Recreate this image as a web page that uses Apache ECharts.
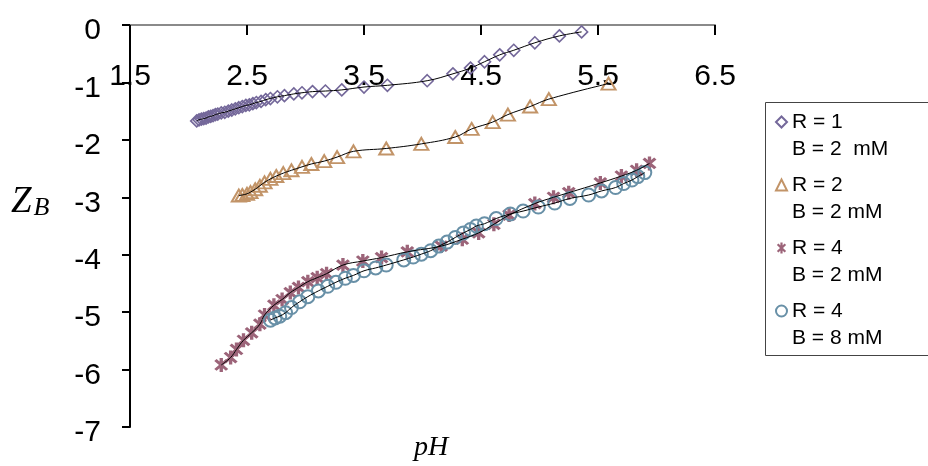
<!DOCTYPE html>
<html>
<head>
<meta charset="utf-8">
<script src="https://cdn.jsdelivr.net/npm/echarts@6/dist/echarts.min.js"></script>
<style>
html,body{margin:0;padding:0;background:#fff;}
#chart{width:928px;height:466px;}
</style>
</head>
<body>
<div id="chart"></div>
<script>
// ---- data ----
const seriesNames = ['R = 1\nB = 2  mM', 'R = 2\nB = 2 mM', 'R = 4\nB = 2 mM', 'R = 4\nB = 8 mM'];
const xTickLabels = ['1.5', '2.5', '3.5', '4.5', '5.5', '6.5'];
const yTickLabels = ['0', '-1', '-2', '-3', '-4', '-5', '-6', '-7'];
const xAxisTitle = 'pH';

const r1B2 = [[2.07,-1.67],[2.09,-1.65],[2.11,-1.64],[2.13,-1.63],[2.15,-1.62],[2.17,-1.60],[2.19,-1.59],[2.21,-1.58],[2.23,-1.56],[2.25,-1.55],[2.28,-1.53],[2.31,-1.52],[2.34,-1.50],[2.37,-1.48],[2.40,-1.46],[2.43,-1.44],[2.46,-1.42],[2.49,-1.40],[2.52,-1.39],[2.55,-1.37],[2.58,-1.35],[2.62,-1.33],[2.66,-1.30],[2.70,-1.28],[2.76,-1.25],[2.82,-1.23],[2.90,-1.20],[2.97,-1.18],[3.06,-1.16],[3.17,-1.15],[3.31,-1.13],[3.50,-1.08],[3.70,-1.05],[4.04,-0.97],[4.26,-0.85],[4.41,-0.75],[4.53,-0.64],[4.66,-0.52],[4.78,-0.44],[4.96,-0.31],[5.17,-0.19],[5.36,-0.12]];

const r2B2 = [[2.43,-2.97],[2.46,-2.96],[2.50,-2.94],[2.53,-2.91],[2.57,-2.86],[2.61,-2.80],[2.65,-2.74],[2.70,-2.68],[2.75,-2.63],[2.81,-2.58],[2.88,-2.53],[2.97,-2.47],[3.05,-2.42],[3.16,-2.37],[3.27,-2.30],[3.41,-2.20],[3.69,-2.15],[3.99,-2.07],[4.28,-1.95],[4.42,-1.81],[4.60,-1.69],[4.73,-1.56],[4.92,-1.42],[5.08,-1.29],[5.59,-1.02]];

const r4B2 = [[2.28,-5.92],[2.36,-5.79],[2.41,-5.65],[2.47,-5.49],[2.54,-5.36],[2.61,-5.21],[2.65,-5.05],[2.73,-4.88],[2.80,-4.78],[2.87,-4.66],[2.94,-4.57],[3.02,-4.47],[3.10,-4.40],[3.18,-4.33],[3.32,-4.18],[3.49,-4.11],[3.65,-4.05],[3.87,-3.95],[4.16,-3.85],[4.34,-3.73],[4.48,-3.62],[4.61,-3.47],[4.74,-3.31],[4.96,-3.11],[5.12,-3.00],[5.25,-2.92],[5.52,-2.75],[5.70,-2.63],[5.83,-2.53],[5.94,-2.41]];

const r4B8 = [[2.70,-5.14],[2.74,-5.10],[2.78,-5.07],[2.83,-5.01],[2.88,-4.92],[2.95,-4.82],[3.02,-4.73],[3.11,-4.63],[3.19,-4.55],[3.26,-4.48],[3.34,-4.41],[3.41,-4.36],[3.50,-4.28],[3.60,-4.23],[3.69,-4.18],[3.84,-4.09],[3.92,-4.04],[3.99,-3.99],[4.07,-3.93],[4.14,-3.85],[4.21,-3.78],[4.28,-3.70],[4.35,-3.62],[4.41,-3.56],[4.46,-3.50],[4.53,-3.46],[4.63,-3.37],[4.75,-3.29],[4.86,-3.24],[4.99,-3.17],[5.13,-3.10],[5.26,-3.02],[5.42,-2.96],[5.53,-2.89],[5.65,-2.83],[5.72,-2.76],[5.79,-2.70],[5.84,-2.64],[5.90,-2.57]];

// ---- styles ----
const colors = ['#74689A', '#C29468', '#9C6479', '#6890A7'];
const starPath = 'path://M-2,-10L2,-10L2,10L-2,10Z M-5.6,-8.4L8.4,5.6L5.6,8.4L-8.4,-5.6Z M8.4,-5.6L-5.6,8.4L-8.4,5.6L5.6,-8.4Z';
const symbols = ['diamond', 'triangle', starPath, 'circle'];
const symbolSizes = [[12, 12], [14, 12], 14, 13];
const datasets = [r1B2, r2B2, r4B2, r4B8];
const sans = '"Liberation Sans", Arial, sans-serif';
const serif = '"Liberation Serif", "Times New Roman", serif';

const series = [];
datasets.forEach((d, i) => {
  const filled = i === 2;
  series.push({
    type: 'scatter',
    name: seriesNames[i],
    data: d,
    symbol: symbols[i],
    symbolSize: symbolSizes[i],
    z: 2,
    itemStyle: filled
      ? { color: colors[i], borderWidth: 0, opacity: 1 }
      : { color: 'rgba(255,255,255,0)', borderColor: colors[i], borderWidth: i === 0 ? 1.6 : 2, opacity: 1 }
  });
});
datasets.forEach((d, i) => {
  series.push({
    type: 'line',
    name: 'fit' + i,
    data: d,
    symbol: 'none',
    smooth: 0.4,
    silent: true,
    z: 3,
    lineStyle: { color: '#000', width: 1 }
  });
});

const chart = echarts.init(document.getElementById('chart'), null, { renderer: 'canvas' });
chart.setOption({
  animation: false,
  backgroundColor: '#fff',
  grid: { left: 130, right: 213, top: 25, bottom: 39, containLabel: false },
  xAxis: {
    type: 'value',
    position: 'top',
    min: 1.5, max: 6.5, interval: 1,
    splitLine: { show: false },
    axisLine: { show: true, onZero: false, lineStyle: { color: '#8a8a8a', width: 2 } },
    axisTick: { show: true, inside: true, length: 10, lineStyle: { color: '#000', width: 2 } },
    axisLabel: {
      inside: true, margin: 37, color: '#000', fontSize: 30, fontFamily: sans,
      formatter: (v) => { const s = v.toFixed(1); return xTickLabels.indexOf(s) >= 0 ? s : ''; }
    }
  },
  yAxis: {
    type: 'value',
    min: -7, max: 0, interval: 1,
    splitLine: { show: false },
    axisLine: { show: true, onZero: false, lineStyle: { color: '#000', width: 2 } },
    axisTick: { show: true, length: 8, lineStyle: { color: '#000', width: 2 } },
    axisLabel: {
      margin: 29, color: '#000', fontSize: 30, fontFamily: sans,
      formatter: (v) => { const s = String(Math.round(v)); return yTickLabels.indexOf(s) >= 0 ? '{t|' + s + '}' : ''; },
      rich: { t: { fontSize: 30, fontFamily: sans, color: '#000', padding: [12, 0, 0, 0] } }
    }
  },
  legend: {
    orient: 'vertical',
    left: 775, top: 81.5,
    padding: 0,
    itemGap: -18,
    itemWidth: 11, itemHeight: 11,
    selectedMode: false,
    data: seriesNames.map((n, i) => ({ name: n, icon: symbols[i] })),
    formatter: (name) => ' \n' + name,
    textStyle: { color: '#000', fontSize: 21, lineHeight: 27, fontFamily: sans }
  },
  graphic: [
    { type: 'rect', left: 763, top: 100, z: 0, silent: true,
      shape: { width: 220, height: 253 },
      style: { fill: 'none', stroke: '#444', lineWidth: 1 } },
    { type: 'text', left: 11, top: 184, silent: true,
      style: { text: '{z|Z}{b|B}', rich: {
        z: { fontFamily: serif, fontStyle: 'italic', fontSize: 37, fill: '#000', verticalAlign: 'bottom' },
        b: { fontFamily: serif, fontStyle: 'italic', fontSize: 26, fill: '#000', padding: [18, 0, 0, 2], verticalAlign: 'bottom' }
      } } },
    { type: 'text', left: 414, top: 434, silent: true,
      style: { text: xAxisTitle, fontFamily: serif, fontStyle: 'italic', fontSize: 28, fill: '#000' } }
  ],
  series: series
});
</script>
</body>
</html>
